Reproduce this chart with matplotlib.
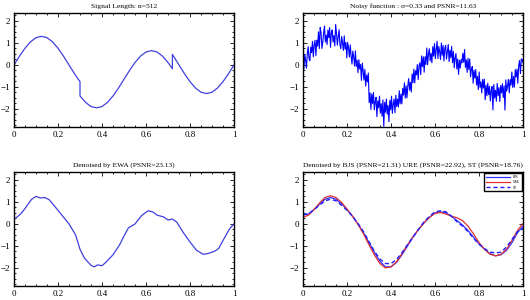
import matplotlib
matplotlib.use("Agg")
import matplotlib.pyplot as plt
from matplotlib.ticker import MultipleLocator, FuncFormatter

plt.rcParams['font.family'] = ['Liberation Serif', 'DejaVu Serif']

# --- data ---
t_clean = [0.0, 0.025, 0.05, 0.075, 0.1, 0.125, 0.15, 0.175, 0.2, 0.225, 0.25, 0.275, 0.3,
           0.3, 0.325, 0.35, 0.375, 0.4, 0.425, 0.45, 0.475, 0.5, 0.525, 0.55, 0.575, 0.6,
           0.625, 0.65, 0.675, 0.7, 0.72, 0.72, 0.725, 0.75, 0.775, 0.8, 0.825, 0.85, 0.875,
           0.9, 0.925, 0.95, 0.975, 1.0]
y_clean = [0.0, 0.40, 0.76, 1.05, 1.24, 1.30, 1.24, 1.05, 0.76, 0.40, 0.0, -0.40, -0.76,
           -1.41, -1.70, -1.89, -1.95, -1.89, -1.70, -1.41, -1.05, -0.65, -0.25, 0.11, 0.40, 0.59,
           0.65, 0.59, 0.40, 0.11, -0.17, 0.48, 0.40, 0.0, -0.40, -0.76, -1.05, -1.24, -1.30,
           -1.24, -1.05, -0.76, -0.40, 0.0]

y_noisy = [
    0.10, -0.19, 0.48, 0.24, -0.15, 0.52, 0.83, 0.29, 0.20, 0.81, 0.56, 1.07, 0.37, 0.92, 1.12, 0.42,
    1.12, 0.86, 1.50, 0.74, 1.70, 1.47, 0.75, 1.03, 1.45, 1.77, 1.04, 1.36, 0.93, 1.59, 1.24, 1.70,
    0.80, 1.45, 1.59, 1.04, 1.33, 0.86, 1.84, 1.42, 0.90, 1.28, 1.60, 0.92, 0.73, 1.29, 1.00, 0.66,
    1.32, 0.72, 1.02, 0.32, 1.02, 0.77, 0.36, 0.91, 0.40, 0.04, 0.63, 0.37, -0.05, 0.64, -0.07, 0.21,
    -0.35, 0.24, -0.18, 0.01, -0.70, 0.08, -0.28, -0.69, -0.20, -0.96, -0.46, -0.77, -0.37, -1.72, -1.27, -2.02,
    -1.32, -1.76, -1.25, -2.04, -1.68, -1.47, -2.35, -1.63, -1.95, -1.42, -2.19, -1.76, -2.33, -1.59, -2.79, -1.70,
    -2.15, -1.55, -2.24, -1.84, -2.58, -1.61, -2.04, -1.42, -2.20, -1.78, -1.55, -2.17, -1.38, -1.89, -1.55, -1.91,
    -1.17, -1.77, -1.32, -1.77, -1.07, -1.37, -0.81, -1.51, -0.95, -1.49, -0.93, -0.62, -1.15, -0.79, -1.23, -0.41,
    -0.80, -0.19, -0.82, -0.26, -0.45, 0.02, -0.67, -0.06, 0.10, -0.44, 0.41, -0.08, 0.37, -0.33, 0.37, 0.02,
    0.77, 0.01, 0.50, 0.74, 0.18, 0.52, 0.10, 0.83, 0.40, 0.97, 0.29, 0.71, 1.08, 0.29, 0.84, 0.60,
    0.25, 1.00, 0.44, 0.89, 0.18, 0.76, 0.89, 0.27, 0.60, 0.93, 0.15, 0.67, 0.33, 0.84, 0.10, 0.61,
    -0.13, 0.32, 0.52, -0.18, 0.27, -0.43, 0.21, -0.14, 0.25, 0.09, 0.53, 0.12, 0.70, -0.11, 0.23, -0.34,
    0.30, -0.21, 0.27, -0.54, -0.20, -0.07, -0.83, -0.24, -0.60, -0.21, -0.91, -0.52, -1.12, -0.32, -1.02, -0.77,
    -1.27, -0.66, -1.05, -0.64, -1.58, -0.92, -1.40, -0.83, -1.35, -0.97, -1.64, -1.16, -0.98, -2.04, -0.89, -1.50,
    -1.15, -1.65, -0.84, -1.39, -1.03, -1.66, -0.94, -1.27, -0.85, -1.48, -0.95, -2.05, -0.68, -1.19, -0.95, -0.66,
    -1.27, -0.67, -0.92, -0.32, -1.02, -0.52, -1.01, -0.21, -0.55, -0.19, -0.83, -0.02, 0.20, -0.39, 0.27, 0.24,
    0.10]
t_noisy = [i / (len(y_noisy) - 1) for i in range(len(y_noisy))]

t_ewa = [0.0, 0.03, 0.05, 0.08, 0.1, 0.12, 0.14, 0.16, 0.2, 0.25, 0.28, 0.3, 0.32, 0.35,
         0.365, 0.38, 0.4, 0.42, 0.45, 0.48, 0.5, 0.52, 0.55, 0.58, 0.61, 0.63, 0.65, 0.68,
         0.7, 0.72, 0.74, 0.77, 0.8, 0.83, 0.86, 0.88, 0.91, 0.93, 0.95, 0.98, 1.0]
y_ewa = [0.20, 0.45, 0.70, 1.12, 1.25, 1.18, 1.20, 1.10, 0.62, 0.0, -0.50, -1.15, -1.55,
         -1.88, -1.95, -1.86, -1.90, -1.72, -1.40, -0.95, -0.55, -0.18, 0.0, 0.38, 0.60,
         0.55, 0.40, 0.32, 0.18, 0.22, 0.08, -0.40, -0.82, -1.20, -1.38, -1.35, -1.25,
         -1.12, -0.75, -0.22, 0.0]

t_den = [i * 0.025 for i in range(41)]
y_bjs = [0.40, 0.45, 0.65, 0.90, 1.12, 1.20, 1.12, 0.92, 0.65, 0.35, 0.00, -0.40, -0.85,
         -1.30, -1.70, -1.95, -1.95, -1.75, -1.40, -1.00, -0.60, -0.25, 0.05, 0.30, 0.50,
         0.55, 0.50, 0.35, 0.15, -0.05, -0.30, -0.60, -0.90, -1.15, -1.35, -1.45, -1.40,
         -1.20, -0.85, -0.40, -0.10]
y_ure = [0.30, 0.40, 0.65, 0.95, 1.20, 1.28, 1.20, 0.98, 0.68, 0.35, -0.02, -0.45, -0.95,
         -1.42, -1.80, -2.00, -1.95, -1.72, -1.35, -0.95, -0.58, -0.25, 0.05, 0.30, 0.48,
         0.52, 0.45, 0.35, 0.28, 0.15, -0.10, -0.45, -0.85, -1.15, -1.38, -1.45, -1.38,
         -1.15, -0.75, -0.30, 0.02]
y_st = [0.45, 0.45, 0.65, 0.85, 1.05, 1.12, 1.05, 0.85, 0.62, 0.35, 0.02, -0.35, -0.80,
        -1.25, -1.60, -1.80, -1.80, -1.62, -1.30, -0.95, -0.60, -0.25, 0.10, 0.35, 0.55,
        0.60, 0.55, 0.35, 0.10, -0.10, -0.35, -0.65, -0.92, -1.12, -1.28, -1.32, -1.28,
        -1.05, -0.70, -0.35, -0.20]

titles = ["Signal Length: n=512",
          "Noisy function : \u03c3=0.33 and PSNR=11.63",
          "Denoised by EWA (PSNR=23.13)",
          "Denoised by BJS (PSNR=21.31) URE (PSNR=22.92), ST (PSNR=18.76)"]
x_ticks = [0, 0.2, 0.4, 0.6, 0.8, 1]
y_ticks = [-2, -1, 0, 1, 2]

W, H = 530, 300
fig = plt.figure(figsize=(W / 100, H / 100), dpi=100)
boxes = [(14, 13, 234, 127), (303, 13, 523, 127), (14, 172, 234, 286), (303, 172, 523, 286)]
axes = []
for (x0, y0, x1, y1) in boxes:
    ax = fig.add_axes([x0 / W, 1 - y1 / H, (x1 - x0) / W, (y1 - y0) / H])
    axes.append(ax)

fmt = FuncFormatter(lambda v, p: ("%g" % v).replace("-", "\u2212"))
for ax, title in zip(axes, titles):
    ax.set_xlim(0, 1)
    ax.set_ylim(-2.82, 2.36)
    ax.set_xticks(x_ticks)
    ax.set_yticks(y_ticks)
    ax.xaxis.set_major_formatter(fmt)
    ax.yaxis.set_major_formatter(fmt)
    ax.xaxis.set_minor_locator(MultipleLocator(0.05))
    ax.yaxis.set_minor_locator(MultipleLocator(0.25))
    ax.tick_params(which='both', direction='in', top=True, right=True, labelsize=6.5,
                   width=0.6, pad=3)
    ax.tick_params(which='major', length=3)
    ax.tick_params(which='minor', length=1.5)
    for s in ax.spines.values():
        s.set_linewidth(1.0)
    ax.set_title(title, fontsize=5.4, pad=3.5)

axes[0].plot(t_clean, y_clean, color='#4040e0', lw=0.9)
axes[1].plot(t_noisy, y_noisy, color='#0000ff', lw=0.8)
axes[2].plot(t_ewa, y_ewa, color='#4040e0', lw=0.9)
axes[3].plot(t_den, y_bjs, color='#3030ff', lw=0.9, label='BJS')
axes[3].plot(t_den, y_ure, color='#e03030', lw=0.9, label='URE')
axes[3].plot(t_den, y_st, color='#2020ff', lw=1.0, ls=(0, (3, 2)), label='ST')
leg = axes[3].legend(loc='upper right', fontsize=2.5, handlelength=7, borderpad=0.5,
                     labelspacing=0.35, fancybox=False, framealpha=1,
                     borderaxespad=0.4)
leg.get_frame().set_edgecolor('black')
leg.get_frame().set_linewidth(1.0)

fig.savefig("out.png", dpi=100)
